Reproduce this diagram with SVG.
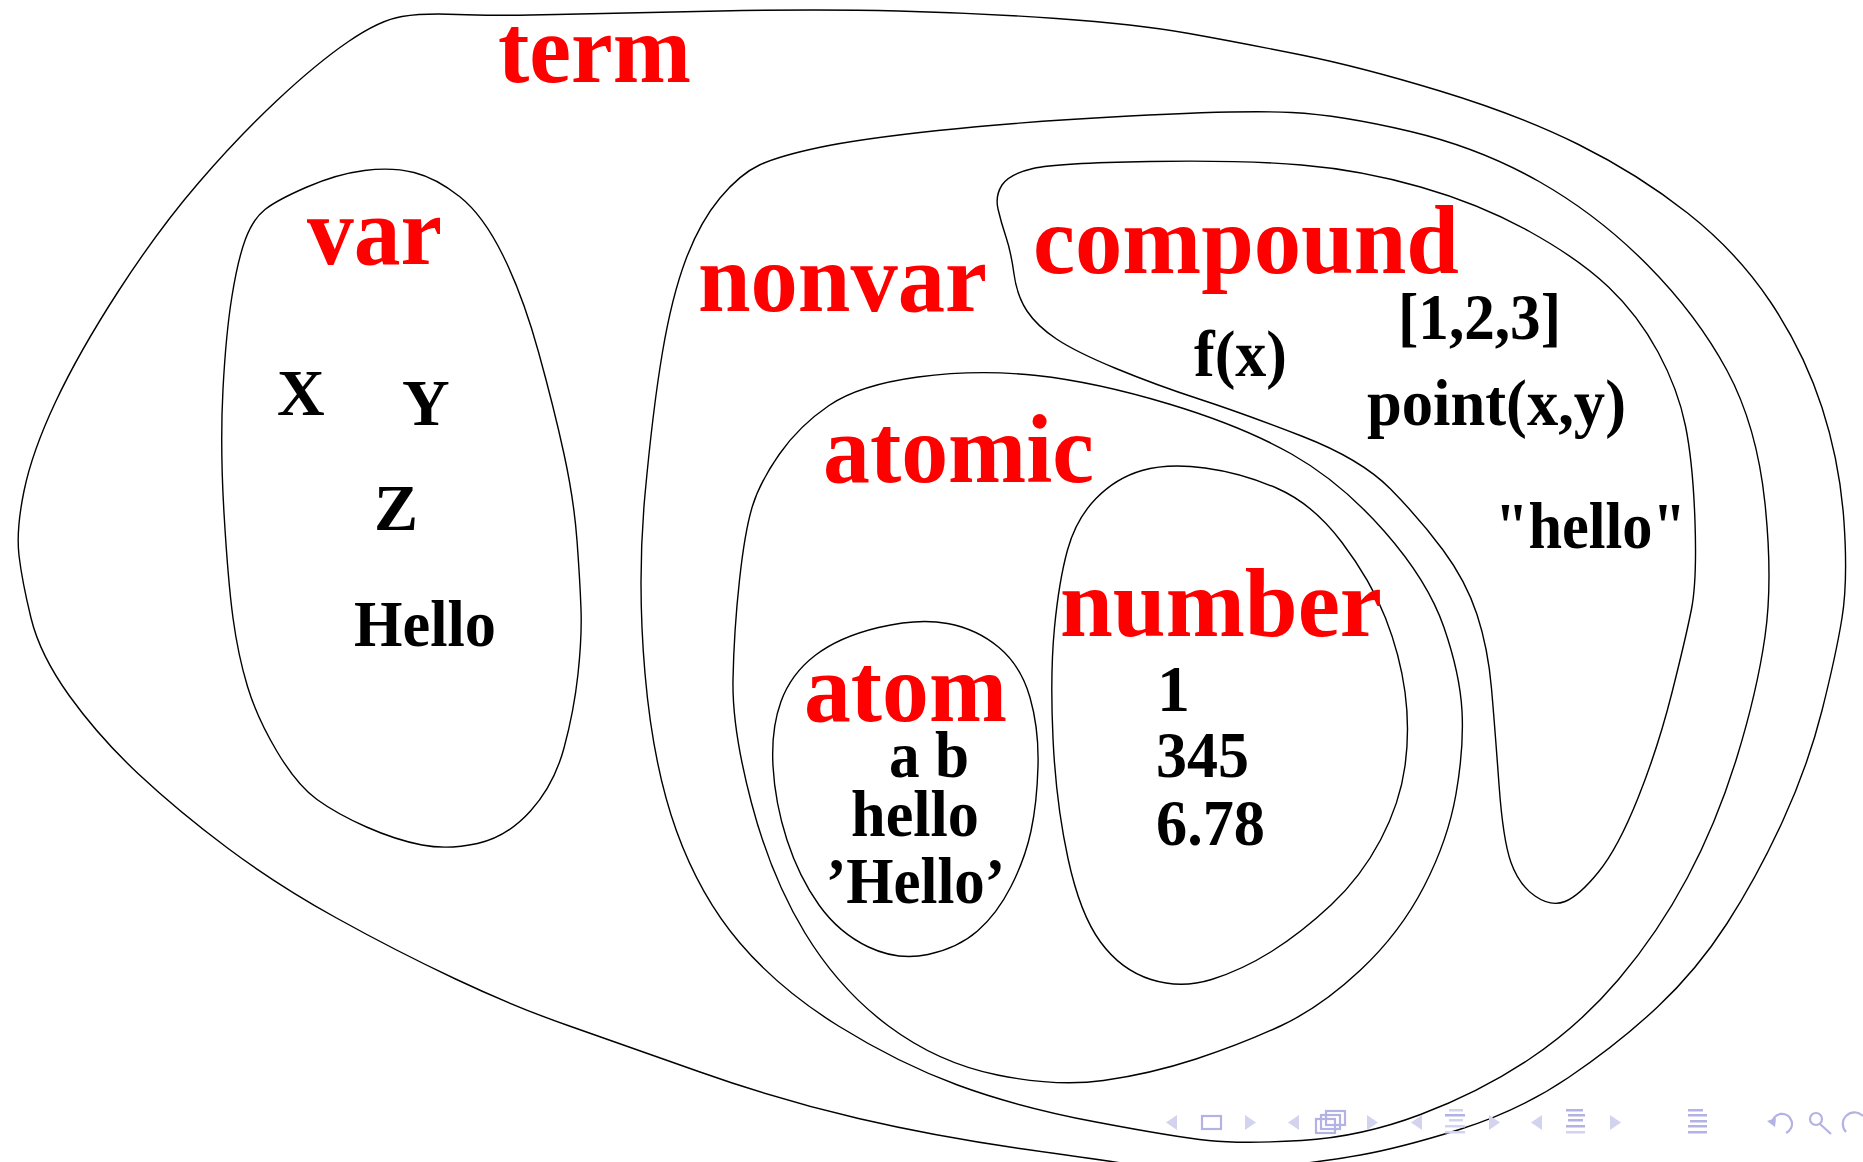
<svg xmlns="http://www.w3.org/2000/svg" width="1863" height="1162" viewBox="0 0 1863 1162">
<style>
.set{fill:none;stroke:#000;stroke-width:1.4}
.lab{font-family:"Liberation Serif","Times New Roman",serif;font-weight:bold;font-size:98px;fill:#ff0000}
.itm{font-family:"Liberation Serif","Times New Roman",serif;font-weight:bold;font-size:66px;fill:#000}
.navt{fill:#d3d3f0}
.navi{fill:#b2b2e4}
.navs{fill:none;stroke:#b2b2e4;stroke-width:2.2}
</style>
<rect width="1863" height="1162" fill="#fff"/>
<g id="connectors"></g>
<g id="term">
<path class="set" d="M 402,16.5 Q 424,13 457.5,14.5 Q 491,16 556,14.5 Q 621,13 720,11 Q 819,9 898,11 Q 977,13 1056.5,18.5 Q 1136,24 1189,33.5 Q 1242,43 1301.5,55 Q 1361,67 1440,91 Q 1519,115 1578.5,144.5 Q 1638,174 1687.5,213 Q 1737,252 1770.5,302 Q 1804,352 1822,407.5 Q 1840,463 1844,522 Q 1848,581 1842,618 Q 1836,655 1822,710.5 Q 1808,766 1782.5,821.5 Q 1757,877 1727,923.5 Q 1697,970 1657.5,1007 Q 1618,1044 1568.5,1077.5 Q 1519,1111 1459.5,1129.5 Q 1400,1148 1360.5,1155 Q 1321,1162 1260.5,1168.5 Q 1200,1175 1158,1168.5 Q 1116,1162 1027,1149.5 Q 938,1137 858.5,1118.5 Q 779,1100 700,1072 Q 621,1044 568,1025.5 Q 515,1007 455.5,979 Q 396,951 336.5,918 Q 277,885 227.5,848 Q 178,811 138.5,774 Q 99,737 69.5,696 Q 40,655 31,618 Q 22,581 19,555.5 Q 16,530 24,491 Q 32,452 55.5,402 Q 79,352 118.5,291 Q 158,230 198,183.5 Q 238,137 277.5,100 Q 317,63 348.5,41.5 Q 380,20 402,16.5 Z"/>
<text class="lab" x="498" y="81.5" textLength="193" lengthAdjust="spacingAndGlyphs">term</text>
</g>
<g id="var">
<path class="set" d="M 364.5,170.5 Q 392,167 414,172.5 Q 436,178 459.5,196.5 Q 483,215 503,255.5 Q 523,296 538.5,352 Q 554,408 564,454 Q 574,500 577,540.5 Q 580,581 581,609 Q 582,637 578,674 Q 574,711 564,748 Q 554,785 530.5,811 Q 507,837 477.5,843.5 Q 448,850 422,845 Q 396,840 366.5,827 Q 337,814 317,799.5 Q 297,785 277,751.5 Q 257,718 247.5,686.5 Q 238,655 233,618 Q 228,581 224,513 Q 220,445 223,389 Q 226,333 232,296 Q 238,259 245.5,239 Q 253,219 265,209.5 Q 277,200 307,187 Q 337,174 364.5,170.5 Z"/>
<text class="lab" x="307" y="264" textLength="135" lengthAdjust="spacingAndGlyphs">var</text>
<text class="itm" x="277" y="415">X</text>
<text class="itm" x="402" y="425">Y</text>
<text class="itm" x="374" y="530">Z</text>
<text class="itm" x="354" y="646" textLength="142" lengthAdjust="spacingAndGlyphs">Hello</text>
</g>
<g id="nonvar">
<path class="set" d="M 720,198 Q 740,174 759.5,165 Q 779,156 819,147.5 Q 859,139 938,130.5 Q 1017,122 1129.5,116 Q 1242,110 1291.5,112.5 Q 1341,115 1410.5,131.5 Q 1480,148 1539,181.5 Q 1598,215 1647.5,265 Q 1697,315 1727,370.5 Q 1757,426 1765,503.5 Q 1773,581 1765,636.5 Q 1757,692 1737,757 Q 1717,822 1687.5,877.5 Q 1658,933 1618.5,979.5 Q 1579,1026 1529.5,1059 Q 1480,1092 1420.5,1114.5 Q 1361,1137 1301.5,1140.5 Q 1242,1144 1208.5,1140.5 Q 1175,1137 1096,1122 Q 1017,1107 957.5,1085 Q 898,1063 838.5,1026 Q 779,989 739.5,942.5 Q 700,896 676.5,831 Q 653,766 645,673.5 Q 637,581 645,494.5 Q 653,408 662.5,352 Q 672,296 686,259 Q 700,222 720,198 Z"/>
<text class="lab" x="698" y="310.5" textLength="289" lengthAdjust="spacingAndGlyphs">nonvar</text>
</g>
<g id="compound">
<path class="set" d="M 998,209 Q 995,196 1002,185 Q 1009,174 1033,168.5 Q 1057,163 1149.5,161.5 Q 1242,160 1301.5,165 Q 1361,170 1420.5,187 Q 1480,204 1529.5,231.5 Q 1579,259 1608.5,287 Q 1638,315 1658,352 Q 1678,389 1685.5,426 Q 1693,463 1695,522 Q 1697,581 1691.5,609 Q 1686,637 1672,692.5 Q 1658,748 1638,798 Q 1618,848 1598.5,872 Q 1579,896 1565,901.5 Q 1551,907 1535,896 Q 1519,885 1511,862.5 Q 1503,840 1499,784.5 Q 1495,729 1491.5,688.5 Q 1488,648 1477,614.5 Q 1466,581 1443,550 Q 1420,519 1390.5,489 Q 1361,459 1301.5,436 Q 1242,413 1199,399 Q 1156,385 1116,368.5 Q 1076,352 1056.5,339 Q 1037,326 1027,311 Q 1017,296 1014,274 Q 1011,252 1006,237 Q 1001,222 998,209 Z"/>
<text class="lab" x="1033" y="273" textLength="426" lengthAdjust="spacingAndGlyphs">compound</text>
<text class="itm" x="1194" y="376" textLength="93" lengthAdjust="spacingAndGlyphs">f(x)</text>
<text class="itm" x="1398" y="339" textLength="163" lengthAdjust="spacingAndGlyphs">[1,2,3]</text>
<text class="itm" x="1367" y="425" textLength="259" lengthAdjust="spacingAndGlyphs">point(x,y)</text>
<text class="itm" x="1495" y="548" textLength="191" lengthAdjust="spacingAndGlyphs">"hello"</text>
</g>
<g id="atomic">
<path class="set" d="M 918,377 Q 977,369 1036.5,375.5 Q 1096,382 1169,404 Q 1242,426 1291.5,454 Q 1341,482 1384.5,531.5 Q 1428,581 1444,627.5 Q 1460,674 1462,711 Q 1464,748 1456,794 Q 1448,840 1424,886.5 Q 1400,933 1360.5,970 Q 1321,1007 1281.5,1025.5 Q 1242,1044 1196,1059 Q 1150,1074 1103.5,1080.5 Q 1057,1087 997.5,1075 Q 938,1063 888.5,1026 Q 839,989 805,933 Q 771,877 751.5,803 Q 732,729 733,679.5 Q 734,630 739.5,580 Q 745,530 752.5,506 Q 760,482 779.5,454 Q 799,426 829,405.5 Q 859,385 918,377 Z"/>
<text class="lab" x="823" y="482" textLength="271" lengthAdjust="spacingAndGlyphs">atomic</text>
</g>
<g id="number">
<path class="set" d="M 1142,470.5 Q 1168,463 1205,468 Q 1242,473 1277.5,488.5 Q 1313,504 1342,542.5 Q 1371,581 1385.5,618 Q 1400,655 1405,692 Q 1410,729 1405,766 Q 1400,803 1380.5,840 Q 1361,877 1331,905 Q 1301,933 1271.5,951.5 Q 1242,970 1211.5,979.5 Q 1181,989 1151,979.5 Q 1121,970 1100.5,942 Q 1080,914 1068,858.5 Q 1056,803 1053,738.5 Q 1050,674 1054.5,627.5 Q 1059,581 1067.5,550 Q 1076,519 1096,498.5 Q 1116,478 1142,470.5 Z"/>
<text class="lab" x="1060" y="635.5" textLength="322" lengthAdjust="spacingAndGlyphs">number</text>
<text class="itm" x="1157" y="711">1</text>
<text class="itm" x="1156" y="777" textLength="93" lengthAdjust="spacingAndGlyphs">345</text>
<text class="itm" x="1156" y="845" textLength="109" lengthAdjust="spacingAndGlyphs">6.78</text>
</g>
<g id="atom">
<path class="set" d="M 878.5,627.5 Q 918,618 947.5,623.5 Q 977,629 999,647.5 Q 1021,666 1030,697.5 Q 1039,729 1038,766 Q 1037,803 1031,831 Q 1025,859 1011,886.5 Q 997,914 977.5,931 Q 958,948 928,954.5 Q 898,961 868.5,947 Q 839,933 819,905 Q 799,877 787,840 Q 775,803 773,766 Q 771,729 781,701.5 Q 791,674 815,655.5 Q 839,637 878.5,627.5 Z"/>
<text class="lab" x="804" y="721" textLength="203" lengthAdjust="spacingAndGlyphs">atom</text>
<text class="itm" x="889" y="777" textLength="80" lengthAdjust="spacingAndGlyphs">a b</text>
<text class="itm" x="851" y="836" textLength="128" lengthAdjust="spacingAndGlyphs">hello</text>
<text class="itm" x="826" y="903" textLength="179" lengthAdjust="spacingAndGlyphs">’Hello’</text>
</g>
<g id="navigation">
<polygon class="navt" points="1166,1122.5 1177,1115 1177,1130"/>
<rect class="navs" x="1202" y="1116" width="19" height="13"/>
<polygon class="navt" points="1245,1115 1245,1130 1256,1122.5"/>
<polygon class="navt" points="1288,1122.5 1299,1115 1299,1130"/>
<rect class="navs" x="1326" y="1111" width="19" height="14"/>
<rect class="navs" x="1321" y="1115" width="19" height="14" fill="#fff"/>
<rect class="navs" x="1316" y="1119" width="19" height="14" fill="#fff"/>
<polygon class="navt" points="1367,1115 1367,1130 1378,1122.5"/>
<polygon class="navt" points="1411,1122.5 1422,1115 1422,1130"/>
<rect class="navt" x="1449" y="1109" width="14" height="2.5"/>
<rect class="navi" x="1445" y="1114" width="20" height="2.5"/>
<rect class="navt" x="1449" y="1119" width="14" height="2.5"/>
<rect class="navt" x="1445" y="1125" width="20" height="2.5"/>
<rect class="navt" x="1445" y="1131" width="20" height="2.5"/>
<polygon class="navt" points="1489,1115 1489,1130 1500,1122.5"/>
<polygon class="navt" points="1531,1122.5 1542,1115 1542,1130"/>
<rect class="navi" x="1566" y="1109" width="17" height="2.5"/>
<rect class="navi" x="1568" y="1114" width="17" height="2.5"/>
<rect class="navi" x="1568" y="1119" width="15" height="2.5"/>
<rect class="navi" x="1566" y="1125" width="19" height="2.5"/>
<rect class="navt" x="1566" y="1131" width="19" height="2.5"/>
<polygon class="navt" points="1610,1115 1610,1130 1621,1122.5"/>
<rect class="navi" x="1688" y="1109" width="15" height="2.5"/>
<rect class="navi" x="1688" y="1114" width="19" height="2.5"/>
<rect class="navi" x="1690" y="1120" width="17" height="2.5"/>
<rect class="navi" x="1688" y="1125" width="19" height="2.5"/>
<rect class="navi" x="1688" y="1131" width="19" height="2.5"/>
<path class="navs" d="M 1772,1124 A 10,10 0 1 1 1786,1133"/>
<polygon class="navi" points="1767,1121 1776,1118 1775,1127"/>
<circle class="navs" cx="1816" cy="1119" r="6"/>
<line class="navs" x1="1820" y1="1124" x2="1831" y2="1134" stroke-width="3"/>
<path class="navs" d="M 1846,1132 A 10,10 0 1 1 1863,1116"/>
</g>
</svg>
